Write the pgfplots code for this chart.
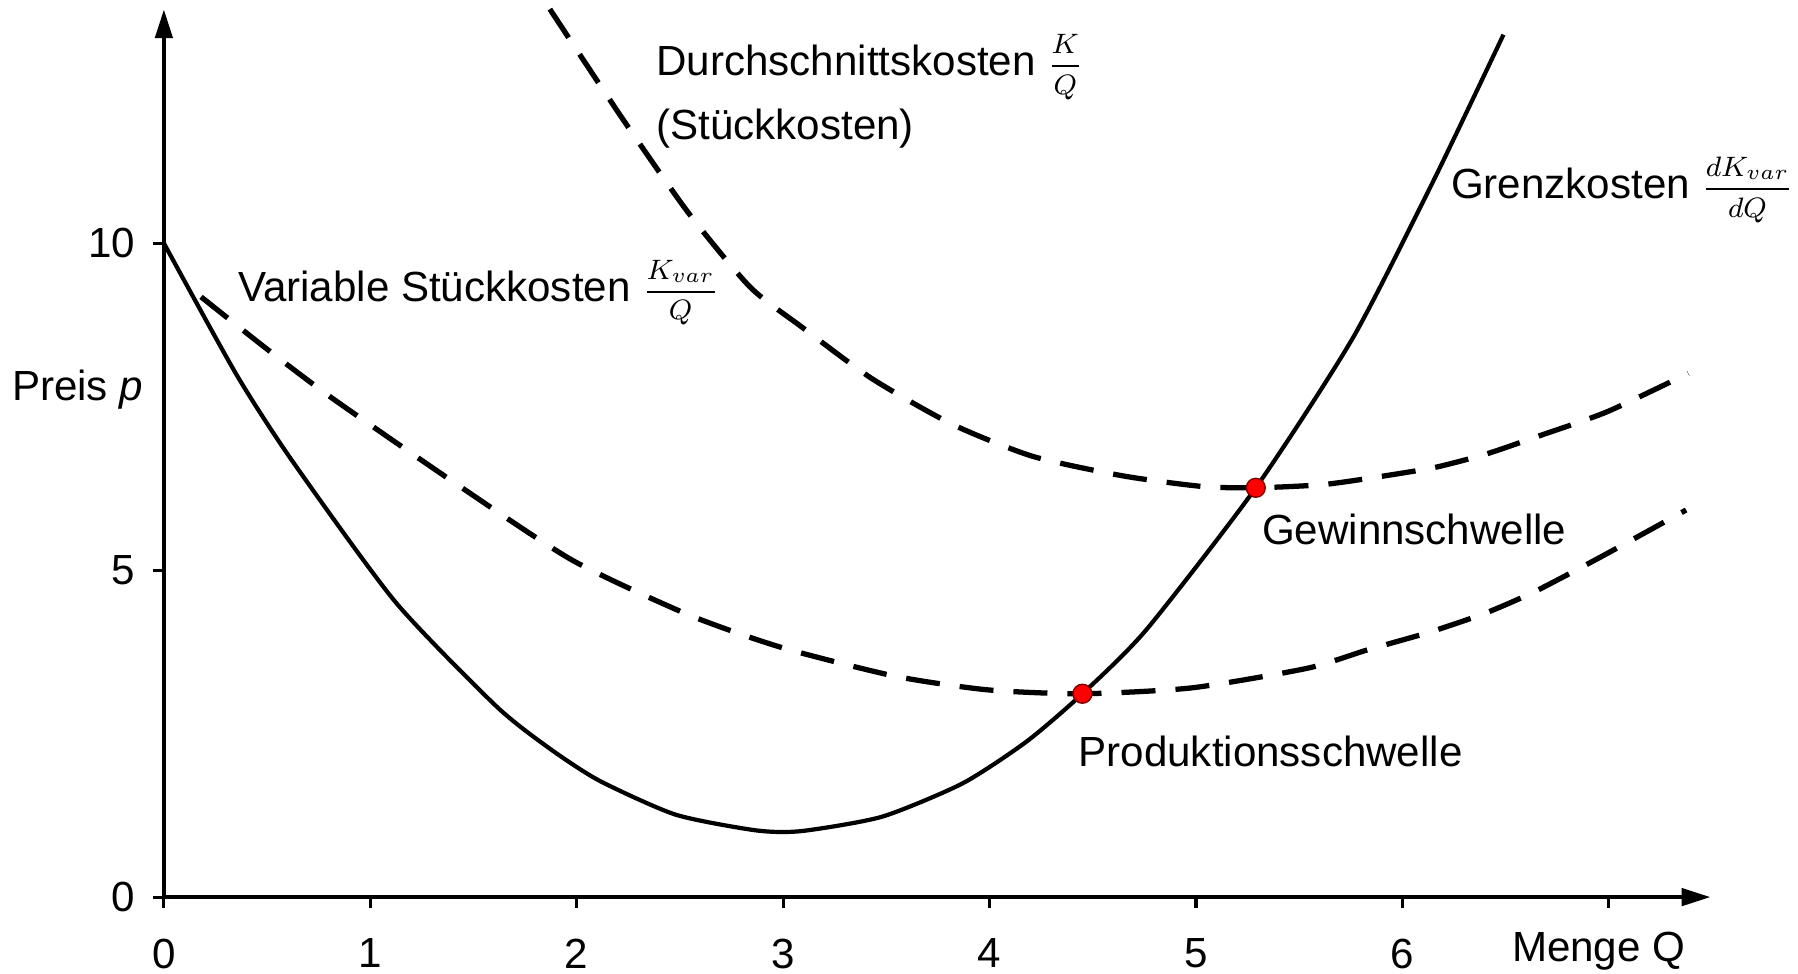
\documentclass[border=0pt]{standalone}
\usepackage{fontspec}
\setmainfont{Liberation Sans}
\usepackage{pgfplots}
\pgfplotsset{compat=1.18}
\usetikzlibrary{arrows.meta}

\newcommand{\fr}[2]{\raisebox{0.8pt}{\fontsize{8.5}{10}\selectfont$\displaystyle\frac{#1}{#2}$}}

\pgfplotstableread{
q p
0 10.0
0.35 8.0
0.62 6.68
1.12 4.52
1.61 2.92
1.87 2.27
2.11 1.78
2.48 1.26
2.87 1.02
3.09 1.01
3.48 1.23
3.87 1.74
4.18 2.38
4.45 3.11
4.76 4.09
5.29 6.26
5.76 8.55
6.15 10.95
6.49 13.19
}\grenz

\pgfplotstableread{
q p
0.18 9.18
0.50 8.38
0.82 7.62
1.43 6.29
1.98 5.15
2.54 4.32
2.99 3.82
3.54 3.38
3.99 3.17
4.45 3.11
4.98 3.20
5.54 3.50
5.83 3.78
6.13 4.05
6.40 4.34
6.64 4.67
6.96 5.20
7.375 5.92
}\varstk

\pgfplotstableread{
q p
1.87 13.58
2.21 11.96
2.54 10.47
2.84 9.33
3.09 8.72
3.43 7.93
3.82 7.23
4.21 6.74
4.65 6.44
5.03 6.28
5.29 6.26
5.62 6.31
5.93 6.45
6.17 6.58
6.41 6.78
6.65 7.04
6.99 7.42
7.385 8.01
}\durch

\begin{document}
\fontsize{12}{14}\selectfont
\begin{tikzpicture}
\begin{axis}[
  x=2.0664cm, y=0.6546cm,
  xmin=0, xmax=7.494, ymin=0, ymax=13.58,
  axis lines=left,
  axis line style={line width=1.3pt, -{Triangle[length=0.29cm,width=0.17cm]}},
  xtick={0,1,...,7}, xticklabels={0,1,2,3,4,5,6,},
  ytick={0,5,10}, yticklabels={0,5,10},
  tick align=outside,
  major tick length=0.11cm,
  tick style={line width=0.9pt, black},
  clip=false,
  /pgf/number format/assume math mode=true,
  tick label style={font=\fontsize{12}{14}\selectfont},
  xticklabel style={inner sep=0pt, yshift=-0.30cm},
  yticklabel style={inner sep=0pt, xshift=-0.17cm},
]
\addplot[black, line width=1.2pt, smooth, tension=0.4] table[x=q,y=p] {\grenz};
\addplot[black, line width=1.5pt, smooth, tension=0.4, dash pattern=on 9.7pt off 5.7pt] table[x=q,y=p] {\varstk};
\addplot[black, line width=1.5pt, smooth, tension=0.4, dash pattern=on 9.7pt off 5.7pt] table[x=q,y=p] {\durch};
\addplot[only marks, mark=*, mark size=2.7pt, mark options={fill=red, draw=red!50!black, line width=0.4pt}] coordinates {(4.45,3.11) (5.29,6.26)};

\node[anchor=base west, inner sep=0pt] at (axis cs:2.383,12.56) {Durchschnittskosten \fr{K}{Q}};
\node[anchor=base west, inner sep=0pt] at (axis cs:2.383,11.58) {(Stückkosten)};
\node[anchor=base west, inner sep=0pt] at (axis cs:0.356,9.105) {Variable Stückkosten \fr{K_{var}}{Q}};
\node[anchor=base west, inner sep=0pt] at (axis cs:6.233,10.68) {Grenzkosten \fr{dK_{var}}{dQ}};
\node[anchor=base west, inner sep=0pt] at (axis cs:-0.739,7.60) {Preis \emph{p}};
\node[anchor=base west, inner sep=0pt] at (axis cs:5.317,5.39) {Gewinnschwelle};
\node[anchor=base west, inner sep=0pt] at (axis cs:4.428,2.0) {Produktionsschwelle};
\node[anchor=base west, inner sep=0pt] at (axis cs:6.528,-0.98) {Menge Q};
\path (axis cs:-0.794,-1.175) rectangle (axis cs:7.917,13.72);
\end{axis}
\end{tikzpicture}
\end{document}
